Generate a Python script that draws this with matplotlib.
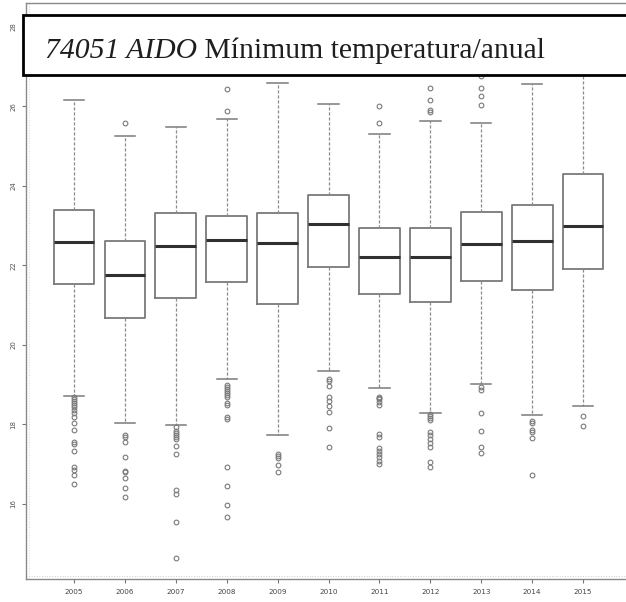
import matplotlib
matplotlib.use("Agg")
import matplotlib.pyplot as plt
from matplotlib.patches import Rectangle

# Yearly minimum temperature summaries (°C)
years = ["2005", "2006", "2007", "2008", "2009", "2010",
         "2011", "2012", "2013", "2014", "2015"]
q1 = [21.53, 20.68, 21.19, 21.58, 21.02, 21.95, 21.28, 21.07, 21.61, 21.37, 21.92]
medians = [22.58, 21.76, 22.48, 22.65, 22.55, 23.04, 22.22, 22.21, 22.54, 22.62, 22.99]
q3 = [23.40, 22.62, 23.32, 23.24, 23.31, 23.77, 22.94, 22.94, 23.34, 23.51, 24.30]
whisker_low = [18.72, 18.03, 17.99, 19.13, 17.74, 19.33, 18.92, 18.29, 19.02, 18.24, 18.47]
whisker_high = [26.16, 25.26, 25.48, 25.69, 26.60, 26.07, 25.31, 25.62, 25.57, 26.55, 27.50]
outliers = [
    [18.68, 18.63, 18.58, 18.53, 18.48, 18.43, 18.36, 18.28, 18.18, 18.03,
     17.86, 17.56, 17.51, 17.32, 16.92, 16.84, 16.72, 16.49],
    [25.58, 17.73, 17.69, 17.56, 17.19, 16.83, 16.80, 16.66, 16.39, 16.18],
    [17.94, 17.84, 17.79, 17.74, 17.69, 17.63, 17.46, 17.26, 16.35, 16.24,
     15.54, 14.65],
    [26.44, 25.89, 18.99, 18.94, 18.89, 18.84, 18.79, 18.73, 18.68, 18.53,
     18.48, 18.18, 18.13, 16.94, 16.45, 15.98, 15.66],
    [17.26, 17.21, 17.16, 16.99, 16.80],
    [19.14, 19.09, 18.97, 18.70, 18.60, 18.45, 18.31, 17.90, 17.44],
    [26.01, 25.58, 18.70, 18.67, 18.63, 18.57, 18.48, 17.76, 17.67, 17.40,
     17.34, 17.26, 17.17, 17.09, 17.01],
    [26.46, 26.15, 25.91, 25.86, 18.25, 18.20, 18.15, 18.10, 17.82, 17.73,
     17.63, 17.53, 17.42, 17.06, 16.92],
    [26.76, 26.46, 26.26, 26.03, 18.94, 18.87, 18.29, 17.84, 17.43, 17.28],
    [18.08, 18.03, 17.86, 17.81, 17.66, 16.72],
    [18.21, 17.96],
]
yticks = [16, 18, 20, 22, 24, 26, 28]

W, H = 626, 602
fig = plt.figure(figsize=(W / 100, H / 100), dpi=100)
# axes box runs slightly past the right edge of the figure
ax = fig.add_axes([26 / W, 23 / H, 610 / W, 576 / H])

stats = []
for i, y in enumerate(years):
    stats.append(dict(label=y, q1=q1[i], med=medians[i], q3=q3[i],
                      whislo=whisker_low[i], whishi=whisker_high[i],
                      fliers=outliers[i]))

ax.bxp(stats, positions=range(1, len(years) + 1), widths=0.8,
       showfliers=True, patch_artist=False,
       boxprops=dict(color="#7a7a7a", linewidth=1.3),
       medianprops=dict(color="#303030", linewidth=2.2),
       whiskerprops=dict(color="#8c8c8c", linewidth=0.9, linestyle=(0, (2.5, 1.5))),
       capprops=dict(color="#7a7a7a", linewidth=1.1),
       flierprops=dict(marker="o", markersize=3.4, markerfacecolor="none",
                       markeredgecolor="#7a7a7a", markeredgewidth=0.8,
                       linestyle="none"))

ax.set_xlim(0.057, 12.04)
ax.set_ylim(14.11, 28.60)
ax.set_yticks(yticks)
ax.set_yticklabels([str(t) for t in yticks], rotation=90, va="center",
                   fontsize=5, color="#555555")
ax.set_xticks(range(1, len(years) + 1))
ax.set_xticklabels(years, fontsize=5.2, color="#444444")
ax.tick_params(axis="both", direction="out", length=3, width=0.8,
               color="#777777", pad=4)
for s in ax.spines.values():
    s.set_color("#8a8a8a")
    s.set_linewidth(1.0)
ax.spines["right"].set_visible(False)

# faint dotted inner frame lines
ax.plot([0, 1], [0.006, 0.006], transform=ax.transAxes, color="#cccccc",
        linewidth=0.7, linestyle=":", clip_on=False)
ax.plot([0.005, 0.005], [0, 1], transform=ax.transAxes, color="#d5d5d5",
        linewidth=0.7, linestyle=":", clip_on=False)

# title banner
fig.patches.append(Rectangle((23 / W, (H - 75) / H), 700 / W, 60 / H,
                             transform=fig.transFigure, facecolor="white",
                             edgecolor="black", linewidth=2.0, zorder=5))
t1 = fig.text(45 / W, (H - 58) / H, "74051 AIDO", fontsize=21.3,
              family="Liberation Serif", style="italic", color="#1e1e1e",
              va="baseline", ha="left", zorder=6)
fig.canvas.draw()
bb = t1.get_window_extent()
fig.text(bb.x1 / W, (H - 58) / H, " Mínimum temperatura/anual",
         fontsize=21.3, family="Liberation Serif", color="#1e1e1e",
         va="baseline", ha="left", zorder=6)

fig.savefig("out.png", dpi=100)
